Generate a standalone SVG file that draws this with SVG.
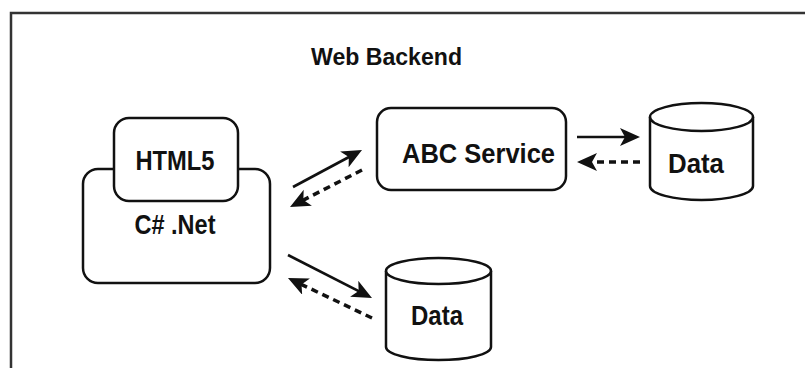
<svg xmlns="http://www.w3.org/2000/svg" width="805" height="368" viewBox="0 0 805 368">
  <style>
    .box { fill: #ffffff; stroke: #111111; stroke-width: 2.5; }
    .lbl { font-family: "Liberation Sans", Arial, sans-serif; font-size: 27px; font-weight: bold; fill: #111111; text-anchor: middle; }
    .title { font-size: 24px; }
    .solid { fill: none; stroke: #111111; stroke-width: 2.7; }
    .dash { fill: none; stroke: #111111; stroke-width: 3.5; stroke-dasharray: 7 5; }
    .frame { fill: none; stroke: #333333; stroke-width: 2.5; }
  </style>
  <defs>
    <marker id="head" markerUnits="userSpaceOnUse" markerWidth="22" markerHeight="20" refX="10" refY="9" orient="auto" viewBox="0 0 22 20">
      <path d="M0,0 L20,9 L0,18 L5,9 z" fill="#111111"/>
    </marker>
  </defs>
  <rect width="805" height="368" fill="#ffffff"/>
  <path class="frame" d="M11,368 V13 H805"/>
  <text class="lbl title" x="386.5" y="65" textLength="151" lengthAdjust="spacingAndGlyphs">Web Backend</text>

  <g id="csharp">
    <rect class="box" x="83" y="169" width="187" height="114" rx="15" ry="15"/>
    <text class="lbl" x="175" y="234" textLength="81" lengthAdjust="spacingAndGlyphs">C# .Net</text>
  </g>
  <g id="html5">
    <rect class="box" x="114" y="118" width="124" height="83" rx="15" ry="15"/>
    <text class="lbl" x="175" y="170" textLength="79" lengthAdjust="spacingAndGlyphs">HTML5</text>
  </g>
  <g id="abc-service">
    <rect class="box" x="377" y="108" width="189" height="82" rx="14" ry="14"/>
    <text class="lbl" x="478.5" y="163" textLength="153" lengthAdjust="spacingAndGlyphs">ABC Service</text>
  </g>
  <g id="data-top">
    <path class="box" d="M650,117 A51.5,14 0 0 1 753,117 V186 A51.5,14 0 0 1 650,186 Z"/>
    <path class="box" fill="none" d="M650,117 A51.5,14 0 0 0 753,117"/>
    <text class="lbl" x="696" y="173" textLength="56" lengthAdjust="spacingAndGlyphs">Data</text>
  </g>
  <g id="data-bottom">
    <path class="box" d="M386,271 A52.5,13 0 0 1 491,271 V347 A52.5,13 0 0 1 386,347 Z"/>
    <path class="box" fill="none" d="M386,271 A52.5,13 0 0 0 491,271"/>
    <text class="lbl" x="437" y="325" textLength="52" lengthAdjust="spacingAndGlyphs">Data</text>
  </g>

  <g id="connectors">
    <line class="solid" x1="293" y1="187" x2="353.2" y2="154.7" marker-end="url(#head)"/>
    <line class="dash" x1="362" y1="170" x2="298.9" y2="202.4" marker-end="url(#head)"/>
    <line class="solid" x1="577" y1="137" x2="630" y2="137" marker-end="url(#head)"/>
    <line class="dash" x1="640" y1="162" x2="587" y2="162" marker-end="url(#head)"/>
    <line class="solid" x1="288" y1="255" x2="363.1" y2="293.4" marker-end="url(#head)"/>
    <line class="dash" x1="372" y1="318" x2="297" y2="282.3" marker-end="url(#head)"/>
  </g>
</svg>
